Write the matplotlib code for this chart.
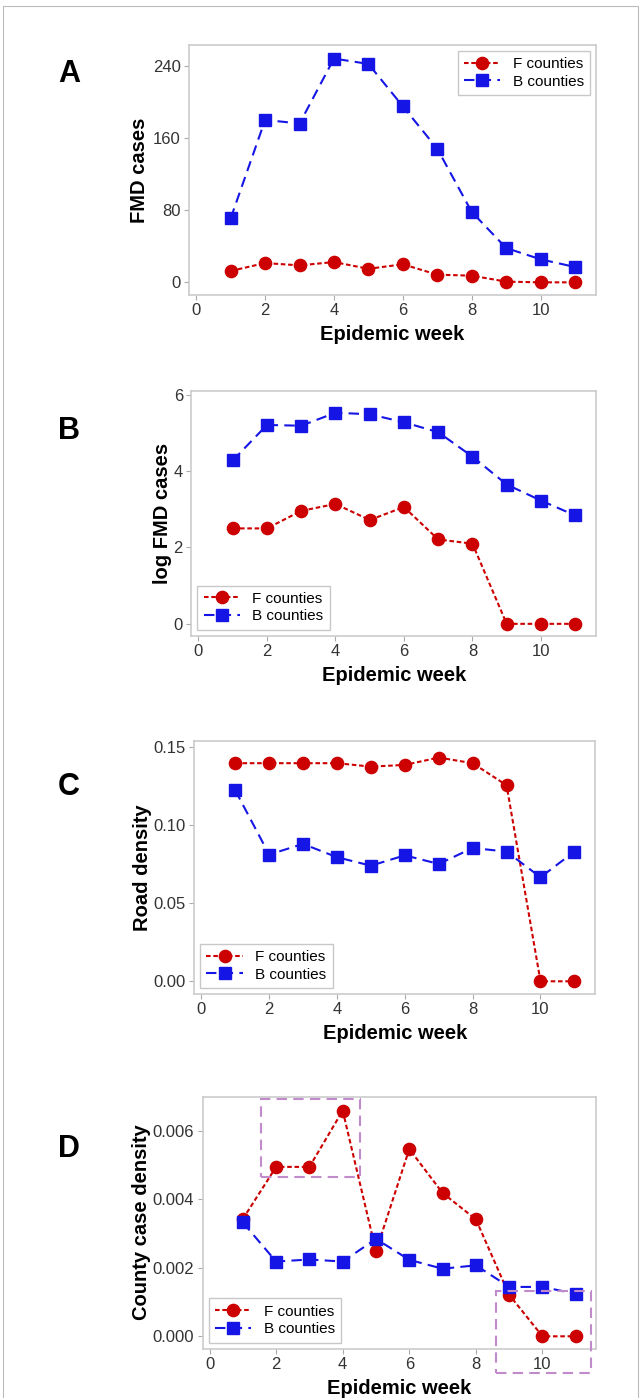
import numpy as np
import matplotlib
matplotlib.use('Agg')
import matplotlib.pyplot as plt
from matplotlib.patches import Rectangle

plt.rcParams['font.family'] = ['Liberation Sans', 'DejaVu Sans']

weeks = [1, 2, 3, 4, 5, 6, 7, 8, 9, 10, 11]

# A: FMD cases
cases_f = [12.6, 21.4, 18.8, 22.5, 15, 20, 8.5, 7.4, 0.8, 0, 0]
cases_b = [71, 180, 176, 248, 242, 195, 148, 78, 38, 25.5, 17]
# B: log FMD cases
logcases_f = [2.50, 2.50, 2.96, 3.14, 2.72, 3.06, 2.21, 2.10, 0, 0, 0]
logcases_b = [4.28, 5.21, 5.19, 5.53, 5.49, 5.28, 5.02, 4.38, 3.65, 3.23, 2.84]
# C: road density
road_f = [0.1394, 0.1394, 0.1394, 0.1394, 0.1372, 0.1383, 0.1430, 0.1394, 0.1253, 0, 0]
road_b = [0.1221, 0.0810, 0.0878, 0.0793, 0.0739, 0.0805, 0.0750, 0.0852, 0.0829, 0.0665, 0.0829]
# D: county case density
dens_f = [0.00342, 0.00494, 0.00494, 0.00658, 0.00248, 0.00546, 0.00418, 0.00341, 0.00121, 0, 0]
dens_b = [0.00332, 0.00218, 0.00224, 0.00218, 0.00284, 0.00223, 0.00197, 0.00207, 0.00144, 0.00144, 0.00124]

# highlighted regions in panel D (x0, x1, y0, y1)
boxes_d = [(1.54, 4.53, 0.00464, 0.00691), (8.59, 11.46, -0.00106, 0.00133)]

RED = '#CC0000'
BLUE = '#1515E6'
GRAY = '#CCCCCC'

fig = plt.figure(figsize=(6.43, 13.98), dpi=100)

# thin border round the whole figure
fig.patches.append(Rectangle((0.004, -0.01), 0.988, 1.006, transform=fig.transFigure,
                             fill=False, edgecolor='#BBBBBB', linewidth=0.8))

panels = [
    dict(pos=[0.294, 0.789, 0.633, 0.179], f=cases_f, b=cases_b, ylab='FMD cases',
         yt=[0, 80, 160, 240], ytl=['0', '80', '160', '240'], ylim=(-14, 263.3),
         leg='upper right', letter='A', ly=0.947, lp=3),
    dict(pos=[0.2975, 0.5453, 0.6295, 0.1753], f=logcases_f, b=logcases_b, ylab='log FMD cases',
         yt=[0, 2, 4, 6], ytl=['0', '2', '4', '6'], ylim=(-0.31, 6.11),
         leg='lower left', letter='B', ly=0.692, lp=1),
    dict(pos=[0.302, 0.289, 0.6235, 0.1812], f=road_f, b=road_b, ylab='Road density',
         yt=[0, 0.05, 0.10, 0.15], ytl=['0.00', '0.05', '0.10', '0.15'], ylim=(-0.0081, 0.1538),
         leg='lower left', letter='C', ly=0.437, lp=1),
    dict(pos=[0.315, 0.0353, 0.612, 0.1803], f=dens_f, b=dens_b, ylab='County case density',
         yt=[0, 0.002, 0.004, 0.006], ytl=['0.000', '0.002', '0.004', '0.006'], ylim=(-0.00036, 0.00699),
         leg='lower left', letter='D', ly=0.178, lp=1),
]

for p in panels:
    ax = fig.add_axes(p['pos'])
    ax.plot(weeks, p['f'], linestyle=(0, (2.2, 1.3)), color=RED, linewidth=1.5,
            marker='o', markersize=8.8, markerfacecolor=RED, markeredgecolor=RED,
            label='F counties', zorder=3)
    ax.plot(weeks, p['b'], linestyle=(0, (5, 3)), color=BLUE, linewidth=1.5,
            marker='s', markersize=8, markerfacecolor=BLUE, markeredgecolor=BLUE,
            label='B counties', zorder=3)
    ax.set_xlim(-0.21, 11.61)
    ax.set_ylim(*p['ylim'])
    ax.set_xticks([0, 2, 4, 6, 8, 10])
    ax.set_yticks(p['yt'])
    ax.set_yticklabels(p['ytl'])
    for s in ax.spines.values():
        s.set_color(GRAY)
        s.set_linewidth(1.2)
    ax.tick_params(axis='both', colors='#AAAAAA', labelcolor='#333333', labelsize=12,
                   length=3.5, width=0.8, pad=2.5)
    ax.set_xlabel('Epidemic week', fontsize=14.5, fontweight='bold', labelpad=5)
    ax.set_ylabel(p['ylab'], fontsize=14.5, fontweight='bold', labelpad=p['lp'])
    lg = ax.legend(loc=p['leg'], fontsize=11, frameon=True, fancybox=False,
                   handlelength=2.4, handletextpad=0.8, borderpad=0.4, labelspacing=0.25,
                   borderaxespad=0.4)
    lg.get_frame().set_edgecolor('#BBBBBB')
    lg.get_frame().set_linewidth(1.0)
    fig.text(0.09, p['ly'], p['letter'], fontsize=22, fontweight='bold', ha='left', va='center')
    if p['letter'] == 'D':
        for x0, x1, y0, y1 in boxes_d:
            ax.add_patch(Rectangle((x0, y0), x1 - x0, y1 - y0, fill=False,
                                   edgecolor='#C08ACB', linestyle=(0, (5, 3)),
                                   linewidth=1.5, clip_on=False, zorder=4))

fig.savefig('out.png', dpi=100)
